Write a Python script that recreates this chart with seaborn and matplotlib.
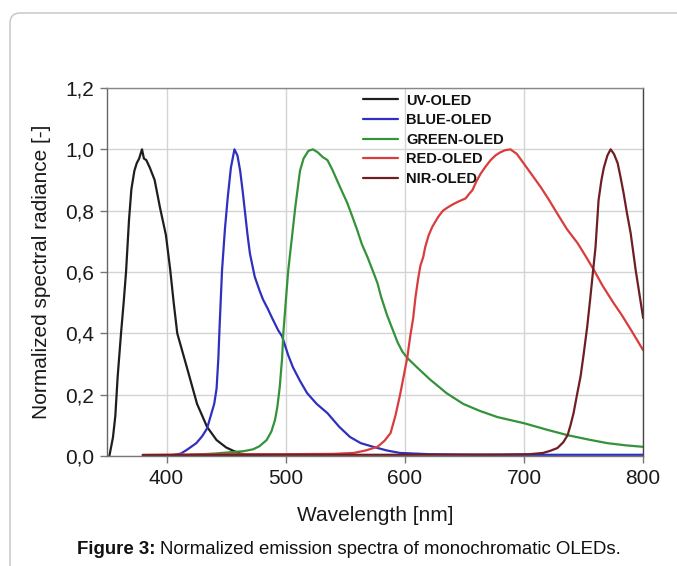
import numpy as np
import pandas as pd
import seaborn as sns
import matplotlib
matplotlib.use('Agg')
import matplotlib.pyplot as plt
from matplotlib.patches import FancyBboxPatch
from matplotlib.transforms import IdentityTransform
from matplotlib.ticker import FuncFormatter

uv_wl = [352, 355, 357, 359, 361.8, 364, 366, 368.5, 370.5, 373, 375, 377, 379.4, 381, 383, 386,
         390, 394.5, 399.5, 403, 406, 409, 417, 425.6, 434, 442, 450, 456, 462, 470, 480]
uv_val = [0.0, 0.06, 0.13, 0.26, 0.40, 0.50, 0.60, 0.77, 0.87, 0.93, 0.955, 0.97, 1.0, 0.97, 0.965, 0.94,
          0.90, 0.81, 0.72, 0.61, 0.50, 0.40, 0.29, 0.17, 0.095, 0.052, 0.028, 0.017, 0.008, 0.003, 0.002]

blue_wl = [405, 412, 417, 425, 430, 434, 437, 440, 442, 443.5, 444.5, 446.6, 449, 451.4, 454, 457,
           459.5, 461.8, 464, 466, 468, 470, 474, 478, 481, 485, 488.6, 493.7, 497, 502, 506, 512,
           518, 526, 535, 545, 554, 563, 573.5, 585, 596, 620, 660, 700, 750, 800]
blue_val = [0.003, 0.008, 0.02, 0.042, 0.065, 0.09, 0.13, 0.17, 0.22, 0.32, 0.42, 0.607, 0.74, 0.845, 0.94, 1.0,
            0.98, 0.93, 0.86, 0.79, 0.72, 0.66, 0.585, 0.54, 0.51, 0.48, 0.45, 0.41, 0.39, 0.33, 0.29, 0.245,
            0.205, 0.17, 0.14, 0.095, 0.062, 0.042, 0.03, 0.018, 0.01, 0.006, 0.004, 0.004, 0.004, 0.004]

green_wl = [420, 440, 456, 465, 472.7, 478, 484, 488, 491, 493, 495, 497, 498, 500, 502, 504, 506,
            508, 510, 512, 515, 519, 522.8, 527, 531, 535, 539, 543, 547, 551.7, 556, 560, 564,
            568.5, 573, 577, 580, 585, 590, 594, 598, 602, 610, 621, 635, 649, 663, 677.7, 700,
            720, 736.6, 755, 770, 785, 800]
green_val = [0.004, 0.008, 0.013, 0.016, 0.022, 0.032, 0.052, 0.08, 0.117, 0.16, 0.225, 0.32, 0.40, 0.50, 0.60, 0.67, 0.74,
             0.81, 0.87, 0.93, 0.97, 0.995, 1.0, 0.99, 0.975, 0.965, 0.935, 0.90, 0.865, 0.825, 0.78, 0.737, 0.69,
             0.65, 0.605, 0.564, 0.52, 0.46, 0.41, 0.37, 0.34, 0.32, 0.29, 0.25, 0.205, 0.17, 0.147, 0.127, 0.107,
             0.085, 0.068, 0.053, 0.042, 0.035, 0.03]

red_wl = [380, 450, 500, 540, 557, 567, 577, 583, 588, 592, 596, 599, 602, 604.5, 607, 609, 611, 613,
          615.5, 617, 620, 623, 628, 632, 635.7, 640, 644, 648, 651, 654, 656.7, 660, 663.5, 668, 672,
          676, 680, 684, 688.6, 694, 699.6, 707, 714, 721, 728, 736, 745, 752, 758.6, 766, 775, 782,
          790, 800]
red_val = [0.004, 0.006, 0.006, 0.007, 0.01, 0.018, 0.03, 0.05, 0.075, 0.13, 0.20, 0.26, 0.32, 0.39, 0.45, 0.52, 0.574, 0.62,
           0.65, 0.68, 0.72, 0.747, 0.78, 0.80, 0.81, 0.82, 0.828, 0.835, 0.84, 0.855, 0.867, 0.895, 0.92, 0.945, 0.965,
           0.98, 0.99, 0.997, 1.0, 0.985, 0.955, 0.915, 0.877, 0.835, 0.79, 0.74, 0.694, 0.65, 0.607, 0.555, 0.50, 0.46,
           0.41, 0.345]

nir_wl = [380, 500, 600, 680, 705, 716, 722, 728, 733, 736.6, 739, 741.6, 744.5, 747.5, 750, 753, 755.5,
          757.6, 760, 762.6, 765, 767, 770, 772.7, 775.5, 778.6, 781, 783.6, 786.5, 789.5, 791.5, 793.7,
          796, 798, 800]
nir_val = [0.003, 0.004, 0.004, 0.005, 0.006, 0.01, 0.017, 0.026, 0.045, 0.068, 0.10, 0.14, 0.20, 0.26, 0.33, 0.42, 0.51,
           0.59, 0.68, 0.835, 0.90, 0.94, 0.98, 1.0, 0.985, 0.955, 0.91, 0.857, 0.79, 0.727, 0.67, 0.607,
           0.55, 0.50, 0.45]

names = ['UV-OLED', 'BLUE-OLED', 'GREEN-OLED', 'RED-OLED', 'NIR-OLED']
colors = ['#1e1e1e', '#3030c0', '#33923a', '#d83c3c', '#6e1e24']
x_ticks = [400, 500, 600, 700, 800]
y_ticks = [0.0, 0.2, 0.4, 0.6, 0.8, 1.0, 1.2]

series = [(names[0], uv_wl, uv_val), (names[1], blue_wl, blue_val), (names[2], green_wl, green_val),
          (names[3], red_wl, red_val), (names[4], nir_wl, nir_val)]
df = pd.concat([pd.DataFrame({'wl': w, 'val': v, 'OLED': n}) for n, w, v in series], ignore_index=True)

sns.set_theme(style='white')
plt.rcParams['font.family'] = ['Liberation Sans', 'DejaVu Sans']

fig = plt.figure(figsize=(6.77, 5.66), dpi=100)
ax = fig.add_axes([0.158, 0.1943, 0.792, 0.6502])

sns.lineplot(data=df, x='wl', y='val', hue='OLED', hue_order=names, palette=colors,
             linewidth=1.6, sort=False, estimator=None, ax=ax)

ax.set_xlim(350, 800)
ax.set_ylim(0, 1.2)
ax.set_xticks(x_ticks)
ax.set_yticks(y_ticks)
ax.yaxis.set_major_formatter(FuncFormatter(lambda v, p: f'{v:.1f}'.replace('.', ',')))
ax.grid(True, color='#d4d4d4', linewidth=1)
ax.set_axisbelow(True)
ax.tick_params(axis='both', which='major', direction='out', length=5, width=1, color='#777777',
               labelsize=15, labelcolor='#1a1a1a', pad=4, bottom=True, left=True)
for side, c in [('left', '#666666'), ('bottom', '#777777'), ('top', '#888888'), ('right', '#444444')]:
    ax.spines[side].set_color(c)
    ax.spines[side].set_linewidth(1)

ax.set_xlabel('Wavelength [nm]', fontsize=15, color='#1a1a1a', labelpad=13)
ax.set_ylabel('Normalized spectral radiance [-]', fontsize=15, color='#1a1a1a', labelpad=10)

h, l = ax.get_legend_handles_labels()
leg = ax.legend(h, l, loc='upper left', bbox_to_anchor=(0.478, 0.985), frameon=False,
                prop={'weight': 'bold', 'size': 10.5}, handlelength=2.4, handletextpad=0.55,
                labelspacing=0.38, borderpad=0, borderaxespad=0)
for t in leg.get_texts():
    t.set_color('#111111')

# rounded frame of the page box
box = FancyBboxPatch((10, -60), 800, 566 - 13 + 60, boxstyle='round,pad=0,rounding_size=10',
                     transform=IdentityTransform(), fill=False, edgecolor='#c4c4c4', linewidth=1)
fig.add_artist(box)

# caption
t1 = fig.text(77 / 677, 0.030, 'Figure 3:', fontsize=13.4, fontweight='bold', va='center', color='#111111')
fig.canvas.draw()
bb = t1.get_window_extent(fig.canvas.get_renderer())
fig.text((bb.x1 + 4) / 677, 0.030, 'Normalized emission spectra of monochromatic OLEDs.',
         fontsize=13.4, va='center', color='#111111')

fig.savefig('out.png', dpi=100)
